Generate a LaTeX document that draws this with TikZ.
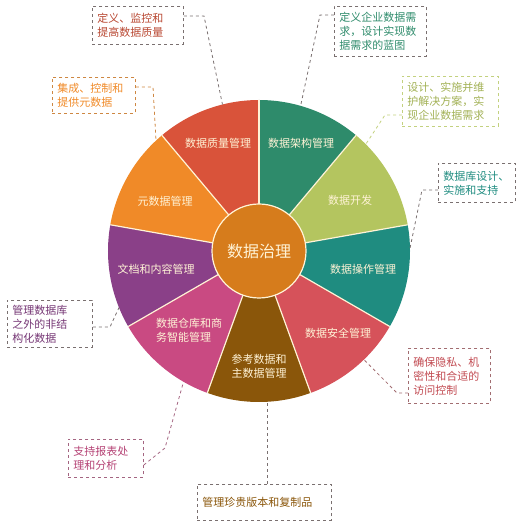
\documentclass[tikz,border=0pt]{standalone}
\usepackage{fontspec}
\setmainfont{Noto Sans CJK SC}

\definecolor{devgreen}{HTML}{B4C55F}
\definecolor{archgreen}{HTML}{2E8B6B}
\definecolor{qualred}{HTML}{D9533A}
\definecolor{metaorange}{HTML}{F08A28}
\definecolor{docpurple}{HTML}{8A4088}
\definecolor{dwpink}{HTML}{C94A82}
\definecolor{refbrown}{HTML}{8A560A}
\definecolor{secred}{HTML}{D6525A}
\definecolor{opsteal}{HTML}{1F8C80}
\definecolor{hubcolor}{HTML}{D67C1C}
\definecolor{cream}{HTML}{FFF3D6}
\definecolor{linegray}{HTML}{7A7070}

\tikzset{
  seglabel/.style={text=cream, font=\fontsize{11}{14}\selectfont, align=left},
  callbox/.style={draw=#1, dashed, line width=0.8pt, anchor=north west,
    align=left, inner xsep=5pt, inner ysep=2pt, font=\fontsize{11}{14}\selectfont},
  callline/.style={draw=#1, dashed, line width=0.8pt},
}

\begin{document}
\begin{tikzpicture}[x=1pt, y=1pt]
  \useasboundingbox (0,0) rectangle (520,528);
  \coordinate (c) at (259,277);

  % Wheel segments
  \foreach \a/\col in {10/devgreen, 50/archgreen, 90/qualred, 130/metaorange,
      170/docpurple, 210/dwpink, 250/refbrown, 290/secred, 330/opsteal}
    \fill[\col] (c) -- ++(\a:151pt) arc[start angle=\a, delta angle=40, radius=151pt] -- cycle;
  \foreach \a in {10,50,...,330}
    \draw[cream, line width=1.2pt] (c) -- ++(\a:151pt);

  % Hub
  \node[circle, fill=hubcolor, draw=cream, line width=1.2pt, minimum size=94pt,
    text=cream, font=\fontsize{16}{18}\selectfont] (hub) at (c) {数据治理};

  % Segment labels
  \node[seglabel] (dev) at (350,328) {数据开发};
  \node[seglabel] (arch) at (301,385) {数据架构管理};
  \node[seglabel] (qual) at (218,385) {数据质量管理};
  \node[seglabel] (meta) at (165,327) {元数据管理};
  \node[seglabel] (doc) at (156,259) {文档和内容管理};
  \node[seglabel] (dw) at (189,198) {数据仓库和商\\务智能管理};
  \node[seglabel] (ref) at (259,162) {参考数据和\\主数据管理};
  \node[seglabel] (sec) at (338,195) {数据安全管理};
  \node[seglabel] (ops) at (363,259) {数据操作管理};

  % Callout boxes
  \node[callbox=linegray, text=qualred!85!black, text width=81pt, minimum height=38pt]
    (b1) at (92,522) {定义、监控和\\提高数据质量};
  \node[callbox=metaorange!70!gray, text=metaorange, text width=73pt, minimum height=36pt]
    (b2) at (52,451) {集成、控制和\\提供元数据};
  \node[callbox=linegray, text=archgreen, text width=82pt, minimum height=50pt]
    (b3) at (334,522) {定义企业数据需\\求，设计实现数\\据需求的蓝图};
  \node[callbox=devgreen!80!white, text=devgreen!90!black, text width=86pt, minimum height=50pt]
    (b4) at (402,452) {设计、实施并维\\护解决方案，实\\现企业数据需求};
  \node[callbox=linegray, text=opsteal, text width=67pt, minimum height=39pt]
    (b5) at (438,365) {数据库设计、\\实施和支持};
  \node[callbox=linegray, text=docpurple!85!black, text width=75pt, minimum height=47pt]
    (b6) at (7,228) {管理数据库\\之外的非结\\构化数据};
  \node[callbox=dwpink!50!gray, text=dwpink!90!black, text width=65pt, minimum height=38pt]
    (b7) at (68,89) {支持报表处\\理和分析};
  \node[callbox=linegray, text=refbrown, text width=124pt, minimum height=36pt]
    (b8) at (197,44) {管理珍贵版本和复制品};
  \node[callbox=secred!40!gray, text=secred!90!black, text width=72pt, minimum height=55pt]
    (b9) at (408,180) {确保隐私、机\\密性和合适的\\访问控制};

  % Knees and ends of the connectors
  \coordinate (k1) at (204,512); \coordinate (e1) at ([shift={(104:151pt)}]c);
  \coordinate (k2) at (153,441); \coordinate (e2) at ([shift={(133:151pt)}]c);
  \coordinate (k3) at (320,513); \coordinate (e3) at ([shift={(74:151pt)}]c);
  \coordinate (k4) at (385,413); \coordinate (e4) at ([shift={(45:151pt)}]c);
  \coordinate (k5) at (422,338); \coordinate (e5) at ([shift={(1:151pt)}]c);
  \coordinate (k6) at (110,201); \coordinate (e6) at ([shift={(202:151pt)}]c);
  \coordinate (k7) at (165,80);  \coordinate (e7) at ([shift={(240:151pt)}]c);
  \coordinate (e8) at ([shift={(273:151pt)}]c);
  \coordinate (k9) at (397,135); \coordinate (e9) at ([shift={(314:151pt)}]c);

  % Connectors
  \draw[callline=linegray] (b1.east |- k1) -- (k1) -- (e1);
  \draw[callline=metaorange!70!gray] (b2.east |- k2) -- (k2) -- (e2);
  \draw[callline=linegray] (b3.west |- k3) -- (k3) -- (e3);
  \draw[callline=devgreen!80!white] (b4.west |- k4) -- (k4) -- (e4);
  \draw[callline=linegray] (b5.west |- k5) -- (k5) -- (e5);
  \draw[callline=linegray] (b6.east |- k6) -- (k6) -- (e6);
  \draw[callline=dwpink!50!gray] (b7.east |- 0,63) -- (k7) -- (e7);
  \draw[callline=linegray] (e8 |- b8.north) -- (e8);
  \draw[callline=secred!40!gray] (b9.west |- k9) -- (k9) -- (e9);
\end{tikzpicture}
\end{document}
